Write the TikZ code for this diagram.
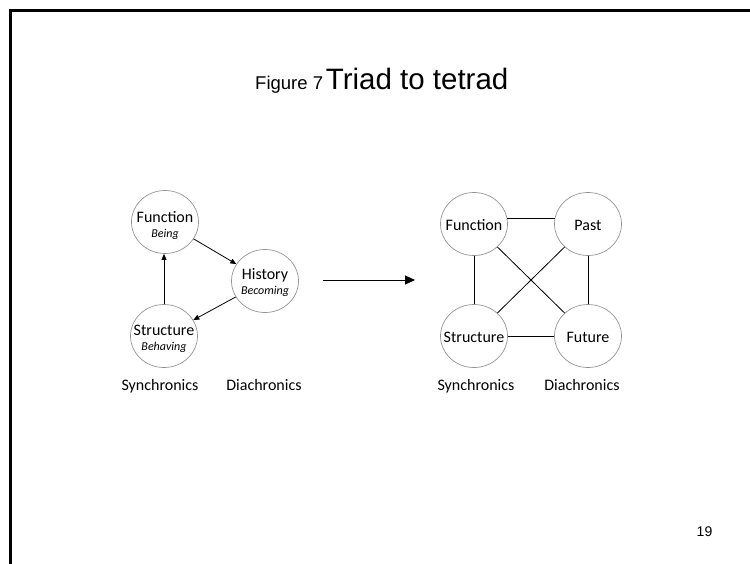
\documentclass[tikz,border=0pt]{standalone}
\usepackage{fontspec}
\setmainfont{Carlito}
\newfontfamily\arialf{Liberation Sans}
\usetikzlibrary{arrows.meta,shapes.geometric}
\newcommand\subtxt{\fontsize{12}{13}\selectfont\itshape}
\tikzset{
  circ/.style={ellipse, draw=black!42, line width=0.7pt, minimum width=67pt, minimum height=63pt, inner sep=0pt},
  txt/.style={align=center, inner sep=0pt, font=\fontsize{16}{18}\selectfont},
  onetxt/.style={inner sep=0pt, anchor=base, font=\fontsize{16}{18}\selectfont},
  lbl/.style={font=\fontsize{16}{18}\selectfont, inner sep=0pt, anchor=base},
  con/.style={draw=black, line width=0.8pt},
  arr/.style={con, -{Triangle[length=6pt,width=5pt]}},
  bigarr/.style={con, line width=1pt, -{Triangle[length=10pt,width=9pt]}}
}
\begin{document}
\begin{tikzpicture}[x=1pt,y=-1pt]
\useasboundingbox (0,0) rectangle (750,563);
\fill[white] (0,0) rectangle (750,563);
% frame
\draw[line width=3pt] (10.5,570) -- (10.5,10.5) -- (760,10.5);
% title
\node[anchor=base west, inner sep=0pt, font=\arialf] (title) at (255,89)
  {{\fontsize{18.5}{20}\selectfont Figure 7} {\fontsize{29.5}{31}\selectfont Triad to tetrad}};
% left triad
\node[circ] (F) at (165,222) {};
\node[circ] (H) at (265,281) {};
\node[circ] (S) at (164,336) {};
\node[txt] (Ft) at ([yshift=-3pt]F.center) {Function\\[-3pt]{\subtxt Being}};
\node[txt] (Ht) at ([yshift=-2pt]H.center) {History\\[-3pt]{\subtxt Becoming}};
\node[txt] (St) at ([yshift=-3pt]S.center) {Structure\\[-3pt]{\subtxt Behaving}};
\draw[arr] (F) -- (H);
\draw[arr] (H) -- (S);
\draw[arr] (S.north) -- (S.north |- F.south);
\node[lbl] (syn1) at (160,390) {Synchronics};
\node[lbl] (dia1) at (264,390) {Diachronics};
% big arrow
\coordinate (a1) at (323,280);
\coordinate (a2) at (415,280);
\draw[bigarr] (a1) -- (a2);
% right tetrad
\node[circ] (F2) at (474,224) {};
\node[circ] (P2) at (588,224) {};
\node[circ] (S2) at (474,336) {};
\node[circ] (U2) at (588,336) {};
\node[onetxt] (F2t) at ([yshift=-6pt]F2.center) {Function};
\node[onetxt] (P2t) at ([yshift=-6pt]P2.center) {Past};
\node[onetxt] (S2t) at ([yshift=-6pt]S2.center) {Structure};
\node[onetxt] (U2t) at ([yshift=-6pt]U2.center) {Future};
\draw[con] (F2.10) -- (P2.170);
\draw[con] (S2) -- (U2);
\draw[con] (F2) -- (S2);
\draw[con] (P2) -- (U2);
\draw[con] (F2) -- (U2);
\draw[con] (P2) -- (S2);
\node[lbl] (syn2) at (476,390) {Synchronics};
\node[lbl] (dia2) at (582,390) {Diachronics};
% page number
\node[font=\arialf\fontsize{14}{16}\selectfont, inner sep=0pt] (pg) at (704.5,532) {19};
\end{tikzpicture}
\end{document}
